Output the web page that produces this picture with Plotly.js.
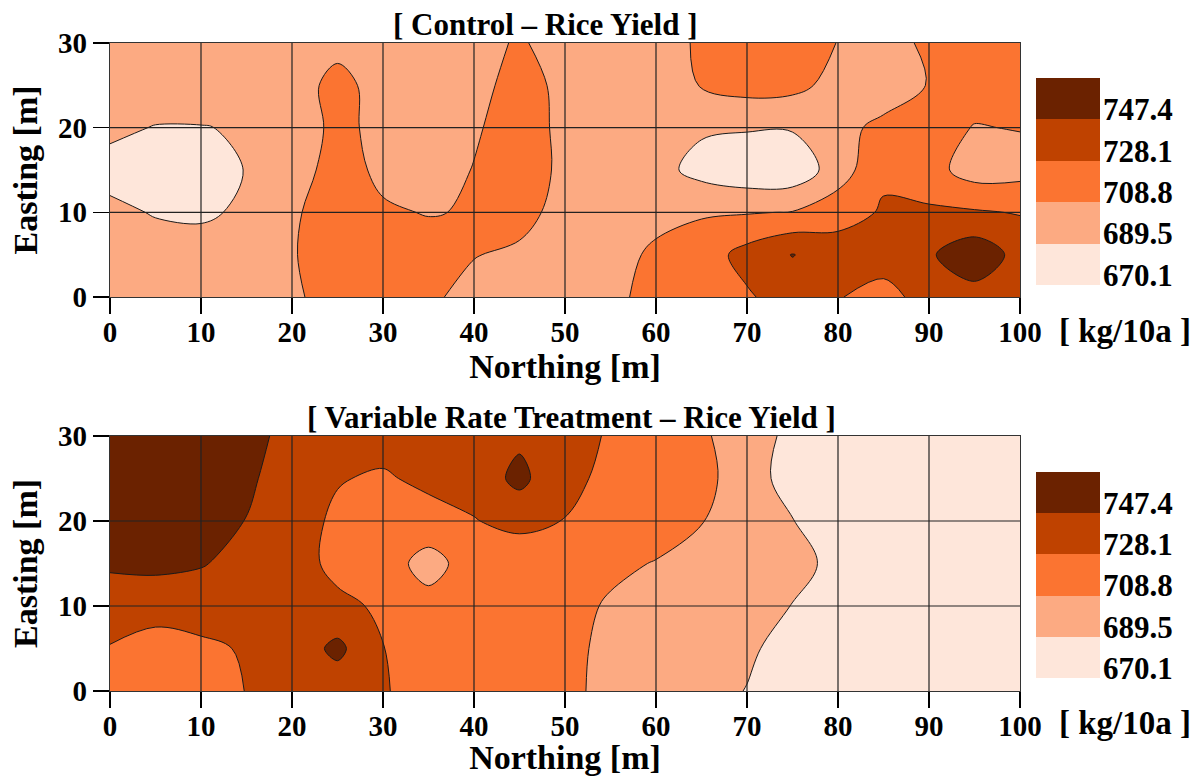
<!DOCTYPE html>
<html><head><meta charset="utf-8">
<script src="https://cdn.plot.ly/plotly-3.0.1.min.js"></script>
<style>html,body{margin:0;padding:0;background:#fff;}#chart{width:1204px;height:776px;}</style>
</head><body><div id="chart"></div>
<script>
// Grid coordinates (m)
const northing = [0,5,10,15,20,25,30,35,40,45,50,55,60,65,70,75,80,85,90,95,100];
const easting = [0,5,10,15,20,25,30];

// Control rice yield (kg/10a), one row per easting value (0 .. 30 m)
const controlYield = [
  [700,700,699,700,703.5,722,720,714,699,702,700,703.5,716,722,725.6,738,729,722,735,740,738],
  [698,699,699,700,706.5,725,724,720,710,703,700,704,711,718,735,748,738,736,745,760,741],
  [694.3,688,686,693,705,722,712,707.5,710.5,720,696.6,700,705,707,707.5,709.5,720,730,731,730,727],
  [682,680,681,690.1,696,720,703,700,709.5,720,704,699,696,683,676,676,699,725,716,700,702],
  [694,688.5,688.6,691.5,692,716,700.9,700,706.4,718,704,700,699,692,691,691,704,712.6,716,708,709.5],
  [700,702,702,699,698,716,699.5,700,702.5,716,704,700,700,709.7,716,714,702.6,700,709.5,716,718],
  [700,700,700,700,699,702,698,700,700,711.5,698,700,702,711,716,714,708.5,702,712,718,720]
];

// Variable rate treatment rice yield (kg/10a)
const vrtYield = [
  [720,718,720,728.5,735,736,730,718,716,716,714,702.6,700,696,688.8,682,680,679,679,678,678],
  [727,718,724,730,736,752,728.5,720,718,716,714,704,700,697,692.6,682,680,679,678,678,678],
  [738,738,738,738,736,733,724.8,714,716,716,714,707,700,698,695,689,682,680,679,678,678],
  [750,751,748.5,742,738,722,716,703,716,712,716,712,708,700,698,696,684,680,679,678,678],
  [762,760,755,747,738,724,718,718,727,735,727.5,720,716,709.5,700,690,680,679,678,678,678],
  [764,764,760,750,740,729.5,725,734,737,752,733,723.6,718,713.7,700,680,678,678,678,678,678],
  [765,765,762,753,742,740,738,738,739,744,736,726.1,720,711.2,700,684,680,679,678,678,678]
];

// Contour classes
const levelStart = 670.1;
const levelStep = 19.325;
const levelLabels = ['670.1','689.5','708.8','728.1','747.4'];
const bandColors = ['#FEE6DA','#FCAA82','#FB7431','#BF4200','#6B2200'];

const xTicks = [0,10,20,30,40,50,60,70,80,90,100];
const yTicks = [0,10,20,30];

const FONT = 'Liberation Serif, Times New Roman, serif';
const stops = [0,0.1,0.37,0.62,0.9,1];
const colorscale = [];
bandColors.forEach((c,i)=>{ colorscale.push([stops[i],c]); colorscale.push([stops[i+1],c]); });

const contourBase = {
  type:'contour', x:northing, y:easting,
  autocontour:false,
  contours:{start:levelStart+levelStep, end:levelStart+4*levelStep+0.001, size:levelStep, coloring:'fill', showlines:true},
  line:{color:'#1a1a1a', width:1, smoothing:1},
  colorscale:colorscale, showscale:false, hoverinfo:'skip'
};

const bandEdges = [0,1,2,3,4,5].map(i=>levelStart+i*levelStep);
const tickPos = [0,1,2,3,4].map(i=>levelStart+i*levelStep);
const cbZ = [[0],[1],[2],[3],[4]];
const cbBase = {type:'heatmap', x:[0], y:bandEdges, z:cbZ, zmin:0, zmax:4,
  colorscale:[[0,bandColors[0]],[0.125,bandColors[0]],[0.125,bandColors[1]],[0.375,bandColors[1]],[0.375,bandColors[2]],[0.625,bandColors[2]],[0.625,bandColors[3]],[0.875,bandColors[3]],[0.875,bandColors[4]],[1,bandColors[4]]],
  showscale:false, hoverinfo:'skip'};

const traces = [
  Object.assign({}, contourBase, {z:controlYield, xaxis:'x', yaxis:'y'}),
  Object.assign({}, contourBase, {z:vrtYield, xaxis:'x2', yaxis:'y2'}),
  Object.assign({}, cbBase, {xaxis:'x3', yaxis:'y3'}),
  Object.assign({}, cbBase, {xaxis:'x4', yaxis:'y4'})
];

const W = 1204, H = 776;
const xDom = [110/W, 1020/W];
const tickFont = {family:FONT, size:29, color:'#000', weight:'bold'};
const titleFont = {family:FONT, size:34, color:'#000', weight:'bold'};

function xAxis(anchor){
  return {domain:xDom, anchor:anchor, range:[0,100], tickvals:xTicks, ticks:'outside', ticklen:16, tickwidth:1.2, tickcolor:'#000',
    showline:true, mirror:true, linecolor:'#333', linewidth:1.2, showgrid:false, zeroline:false, ticklabelstandoff:-7,
    tickfont:tickFont, title:{text:'Northing [m]', font:titleFont, standoff:5}};
}
function yAxis(anchor, dom){
  return {domain:dom, anchor:anchor, range:[0,30], tickvals:yTicks, ticks:'outside', ticklen:16, tickwidth:1.2, tickcolor:'#000',
    showline:true, mirror:true, linecolor:'#333', linewidth:1.2, showgrid:false, zeroline:false,
    tickfont:tickFont, title:{text:'Easting [m]', font:titleFont, standoff:10}};
}
function cbX(anchor){ return {domain:[1036/W,1100/W], anchor:anchor, range:[-0.5,0.5], visible:false, fixedrange:true}; }
function cbY(anchor, dom){
  return {domain:dom, anchor:anchor, side:'right', range:[bandEdges[0], bandEdges[5]], tickvals:tickPos, ticktext:levelLabels,
    ticks:'', showline:false, showgrid:false, zeroline:false, ticklabelshift:-10, ticklabelstandoff:2,
    tickfont:{family:FONT, size:31, color:'#000', weight:'bold'}};
}

const shapes = [];
[['x','y'],['x2','y2']].forEach(([xr,yr])=>{
  xTicks.slice(1,-1).forEach(v=>shapes.push({type:'line', layer:'above', xref:xr, yref:yr+' domain', x0:v, x1:v, y0:0, y1:1, line:{color:'#222', width:1.2}}));
  yTicks.slice(1,-1).forEach(v=>shapes.push({type:'line', layer:'above', xref:xr+' domain', yref:yr, x0:0, x1:1, y0:v, y1:v, line:{color:'#222', width:1.2}}));
});

const annFont = {family:FONT, size:31, color:'#000', weight:'bold'};
const unitFont = {family:FONT, size:33, color:'#000', weight:'bold'};
const annotations = [
  {text:'[ Control – Rice Yield ]', xref:'paper', yref:'paper', x:545/W, y:1-24/H, xanchor:'center', yanchor:'middle', showarrow:false, font:annFont},
  {text:'[ Variable Rate Treatment – Rice Yield ]', xref:'paper', yref:'paper', x:571/W, y:1-417/H, xanchor:'center', yanchor:'middle', showarrow:false, font:annFont},
  {text:'[ kg/10a ]', xref:'paper', yref:'paper', x:1125/W, y:1-331/H, xanchor:'center', yanchor:'middle', showarrow:false, font:unitFont},
  {text:'[ kg/10a ]', xref:'paper', yref:'paper', x:1125/W, y:1-723/H, xanchor:'center', yanchor:'middle', showarrow:false, font:unitFont}
];

const layout = {
  width:W, height:H, margin:{l:0,r:0,t:0,b:0}, paper_bgcolor:'#fff', plot_bgcolor:'#fff', showlegend:false,
  xaxis:xAxis('y'), yaxis:yAxis('x',[1-297/H, 1-43/H]),
  xaxis2:xAxis('y2'), yaxis2:yAxis('x2',[1-691/H, 1-436/H]),
  xaxis3:cbX('y3'), yaxis3:cbY('x3',[1-285/H, 1-78/H]),
  xaxis4:cbX('y4'), yaxis4:cbY('x4',[1-678/H, 1-472/H]),
  shapes:shapes, annotations:annotations
};

Plotly.newPlot('chart', traces, layout, {displayModeBar:false, staticPlot:true});
</script>
</body></html>
